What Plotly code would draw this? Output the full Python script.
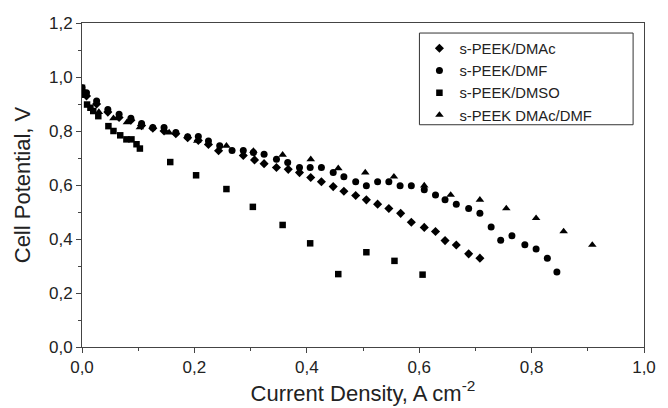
import plotly.graph_objects as go

# s-PEEK/DMAc (diamonds)
dmac_x = [0.0, 0.008, 0.026, 0.046, 0.066, 0.087, 0.106, 0.126, 0.146, 0.167, 0.188, 0.207, 0.225, 0.243,
          0.287, 0.307, 0.324, 0.346, 0.367, 0.387, 0.407, 0.426, 0.447, 0.466, 0.487, 0.506, 0.526,
          0.546, 0.567, 0.586, 0.609, 0.629, 0.646, 0.666, 0.688, 0.708]
dmac_y = [0.95, 0.93, 0.90, 0.87, 0.85, 0.84, 0.82, 0.81, 0.80, 0.79, 0.775, 0.765, 0.75, 0.727,
          0.709, 0.693, 0.679, 0.665, 0.658, 0.646, 0.628, 0.612, 0.594, 0.577, 0.561, 0.545, 0.529,
          0.513, 0.495, 0.462, 0.443, 0.428, 0.394, 0.378, 0.345, 0.329]

# s-PEEK/DMF (circles)
dmf_x = [0.0, 0.008, 0.026, 0.046, 0.066, 0.087, 0.106, 0.126, 0.146, 0.167, 0.188, 0.207, 0.225, 0.245,
         0.267, 0.287, 0.305, 0.324, 0.346, 0.366, 0.387, 0.406, 0.426, 0.447, 0.466, 0.487, 0.506,
         0.526, 0.546, 0.566, 0.586, 0.609, 0.629, 0.646, 0.666, 0.688, 0.708, 0.728, 0.745, 0.765,
         0.788, 0.808, 0.828, 0.845]
dmf_y = [0.96, 0.942, 0.911, 0.880, 0.862, 0.847, 0.828, 0.813, 0.813, 0.794, 0.779, 0.780, 0.763, 0.745,
         0.728, 0.728, 0.720, 0.714, 0.695, 0.683, 0.665, 0.665, 0.665, 0.646, 0.631, 0.612, 0.597,
         0.612, 0.612, 0.597, 0.597, 0.582, 0.563, 0.545, 0.529, 0.513, 0.495, 0.444, 0.395, 0.412,
         0.379, 0.363, 0.329, 0.278]

# s-PEEK/DMSO (squares)
dmso_x = [0.0, 0.003, 0.009, 0.015, 0.020, 0.029, 0.047, 0.056, 0.068, 0.079, 0.088, 0.097, 0.103,
          0.157, 0.203, 0.257, 0.304, 0.357, 0.406, 0.456, 0.506, 0.556, 0.606]
dmso_y = [0.96, 0.935, 0.898, 0.886, 0.874, 0.855, 0.818, 0.800, 0.784, 0.769, 0.769, 0.751, 0.735,
          0.685, 0.636, 0.585, 0.519, 0.452, 0.384, 0.270, 0.351, 0.319, 0.268]

# s-PEEK DMAc/DMF (triangles)
mix_x = [0.005, 0.03, 0.056, 0.08, 0.103, 0.155, 0.205, 0.257, 0.305, 0.357, 0.407, 0.456, 0.504,
         0.555, 0.609, 0.656, 0.708, 0.755, 0.808, 0.857, 0.908]
mix_y = [0.93, 0.87, 0.847, 0.832, 0.813, 0.794, 0.763, 0.745, 0.726, 0.712, 0.695, 0.662, 0.646,
         0.631, 0.598, 0.563, 0.545, 0.513, 0.477, 0.428, 0.378]

names = ["s-PEEK/DMAc", "s-PEEK/DMF", "s-PEEK/DMSO", "s-PEEK DMAc/DMF"]
x_title = "Current Density, A cm<sup>-2</sup>"
y_title = "Cell Potential, V"

FONT = "Liberation Sans, Arial, sans-serif"
fig = go.Figure()
series = [
    (dmac_x, dmac_y, "diamond", 7),
    (dmf_x, dmf_y, "circle", 7),
    (dmso_x, dmso_y, "square", 6.5),
    (mix_x, mix_y, "triangle-up", 7.5),
]
for (xs, ys, sym, sz), nm in zip(series, names):
    fig.add_trace(go.Scatter(x=xs, y=ys, mode="markers", name=nm,
                             marker=dict(symbol=sym, size=sz, color="black",
                                         line=dict(width=0))))

axis_common = dict(
    showline=True, linecolor="#444", linewidth=1, mirror=True,
    ticks="outside", ticklen=5, tickwidth=1, tickcolor="#444",
    showgrid=False, zeroline=False,
    tickfont=dict(family=FONT, size=17, color="#222"),
    tickformat=".1f",
    minor=dict(ticks="outside", ticklen=3, tickcolor="#444", dtick=0.1, showgrid=False),
)
fig.update_xaxes(range=[0, 1.0], dtick=0.2, tick0=0,
                 title=dict(text=x_title, font=dict(family=FONT, size=22, color="#222"), standoff=3),
                 **axis_common)
fig.update_yaxes(range=[0, 1.2], dtick=0.2, tick0=0,
                 title=dict(text=y_title, font=dict(family=FONT, size=22, color="#222"), standoff=12),
                 **axis_common)

# legend frame (drawn as a shape so its size matches the reference box)
fig.add_shape(type="rect", xref="paper", yref="paper",
              x0=0.6004, x1=0.9806, y0=0.686, y1=0.969,
              line=dict(color="#333", width=1), fillcolor="rgba(0,0,0,0)", layer="below")

fig.update_layout(
    width=668, height=408,
    margin=dict(l=82, r=18, t=23, b=60),
    plot_bgcolor="white", paper_bgcolor="white",
    separators=",.",
    showlegend=True,
    legend=dict(x=0.6004, y=0.972, xanchor="left", yanchor="top",
                borderwidth=0, bgcolor="rgba(0,0,0,0)",
                font=dict(family=FONT, size=14.8, color="#222"),
                tracegroupgap=0, itemwidth=30),
)
fig.write_html("out.html")
